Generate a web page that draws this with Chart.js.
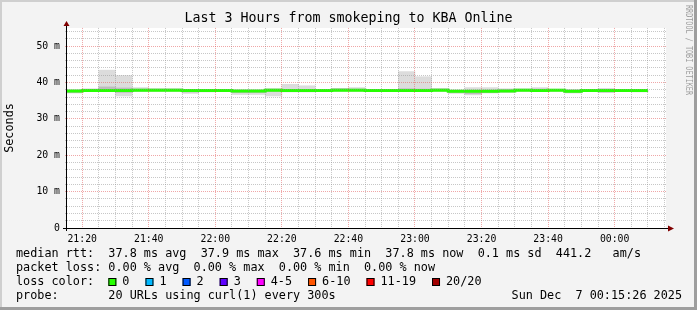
<!DOCTYPE html>
<html>
<head>
<meta charset="utf-8">
<title>Last 3 Hours from smokeping to KBA Online</title>
<script src="https://cdn.jsdelivr.net/npm/chart.js@4/dist/chart.umd.min.js"></script>
<style>
  html, body { margin: 0; padding: 0; background: #f3f3f3; }
  canvas { display: block; }
</style>
</head>
<body>
<canvas id="smokeChart" width="697" height="310"></canvas>
<script>
// ---- Data -----------------------------------------------------------------
// Each value belongs to the 5 minute bin that ENDS at the matching time.
const chartTitle   = 'Last 3 Hours from smokeping to KBA Online';
const rangeStart   = '21:15:26';
const rangeMinutes = 180;
const binMinutes   = 5;

const binEnds = [
  '21:15', '21:20', '21:25', '21:30', '21:35', '21:40', '21:45', '21:50', '21:55',
  '22:00', '22:05', '22:10', '22:15', '22:20', '22:25', '22:30', '22:35', '22:40',
  '22:45', '22:50', '22:55', '23:00', '23:05', '23:10', '23:15', '23:20', '23:25',
  '23:30', '23:35', '23:40', '23:45', '23:50', '23:55', '00:00', '00:05', '00:10'
];

// median rtt, ms
const medianRtt = [
  37.8, 37.7, 37.8, 37.8, 37.8, 37.9, 37.9, 37.9, 37.8,
  37.8, 37.8, 37.7, 37.7, 37.9, 37.8, 37.8, 37.8, 37.9,
  37.9, 37.8, 37.8, 37.8, 37.8, 37.9, 37.6, 37.6, 37.6,
  37.7, 37.9, 37.8, 37.9, 37.6, 37.8, 37.8, 37.8, 37.8
];

// smoke: fastest / slowest of the 20 probes, ms
const smokeLow = [
  37.4, 37.1, 37.5, 37.5, 36.3, 37.5, 37.6, 37.6, 37.0,
  37.4, 37.5, 36.7, 36.7, 36.3, 37.4, 37.4, 37.6, 37.6,
  37.6, 37.6, 37.6, 37.5, 37.5, 37.6, 37.0, 36.6, 37.1,
  37.3, 37.6, 37.5, 37.6, 37.1, 37.5, 37.2, 37.5, 37.4
];
const smokeHigh = [
  38.1, 38.0, 38.3, 43.4, 41.9, 38.6, 38.3, 38.3, 38.1,
  38.0, 38.1, 38.0, 38.0, 38.3, 39.5, 39.1, 38.0, 38.4,
  38.6, 38.1, 38.1, 43.0, 41.6, 38.4, 38.0, 38.6, 38.6,
  38.3, 38.2, 38.6, 38.2, 38.1, 38.0, 38.4, 38.1, 38.0
];

// smoke core: the probes closest to the median, ms
const coreLow = [
  37.6, 37.2, 37.6, 37.6, 37.3, 37.7, 37.7, 37.7, 37.4,
  37.6, 37.6, 37.2, 37.2, 37.5, 37.6, 37.6, 37.7, 37.7,
  37.7, 37.7, 37.7, 37.6, 37.6, 37.7, 37.2, 36.9, 37.2,
  37.4, 37.7, 37.6, 37.7, 37.2, 37.6, 37.4, 37.6, 37.5
];
const coreHigh = [
  37.9, 37.8, 38.1, 38.8, 38.5, 38.2, 38.2, 38.2, 37.9,
  37.9, 38.0, 37.8, 37.8, 38.2, 38.0, 38.0, 37.9, 38.3,
  38.2, 37.9, 37.9, 38.3, 38.2, 38.2, 37.8, 37.8, 37.9,
  38.0, 38.2, 38.2, 38.1, 37.9, 37.9, 37.9, 38.0, 37.9
];

const xTickLabels = ['21:20', '21:40', '22:00', '22:20', '22:40', '23:00', '23:20', '23:40', '00:00'];
const xMinorStep  = 5;
const yMajorTicks = [0, 10, 20, 30, 40, 50];
const yTickLabels = ['0', '10 m', '20 m', '30 m', '40 m', '50 m'];
const yMinorStep  = 2;
const yMax        = 55;

const statsRtt  = 'median rtt:  37.8 ms avg  37.9 ms max  37.6 ms min  37.8 ms now  0.1 ms sd  441.2   am/s';
const statsLoss = 'packet loss: 0.00 % avg  0.00 % max  0.00 % min  0.00 % now';
const lossLabels = ['0', '1', '2', '3', '4-5', '6-10', '11-19', '20/20'];
const lossColors = ['#26ff00', '#00b8ff', '#0059ff', '#5e00ff', '#ff00ff', '#ff5500', '#ff0000', '#a10000'];
const probeText  = 'probe:       20 URLs using curl(1) every 300s';
const stampText  = 'Sun Dec  7 00:15:26 2025';
const watermark  = 'RRDTOOL / TOBI OETIKER';

// ---- Helpers ---------------------------------------------------------------
const MONO = '"DejaVu Sans Mono", "Liberation Mono", monospace';

// minutes since midnight of the first day; times before noon are next day
function toMinutes(hhmm) {
  const p = hhmm.split(':').map(Number);
  const h = p[0] < 12 ? p[0] + 24 : p[0];
  return h * 60 + p[1] + (p[2] || 0) / 60;
}

const xMin = toMinutes(rangeStart);
const xMax = xMin + rangeMinutes;
const xMajorValues = xTickLabels.map(toMinutes);

function xLabelFor(v) {
  const i = xMajorValues.findIndex(function (m) { return Math.abs(m - v) < 1e-6; });
  return i === -1 ? '' : xTickLabels[i];
}
function yLabelFor(v) {
  const i = yMajorTicks.indexOf(v);
  return i === -1 ? '' : yTickLabels[i];
}

function smokeData(lo, hi) {
  return binEnds.map(function (t, i) {
    return { x: toMinutes(t) - binMinutes / 2, y: [lo[i], hi[i]] };
  });
}

const GRID_MINOR = 'rgba(144,144,144,0.5)';
const GRID_MAJOR = 'rgba(224,80,80,0.5)';

// ---- Frame, axes, arrows and the rrdtool style legend -----------------------
const rrdFrame = {
  id: 'rrdFrame',
  beforeDraw: function (chart) {
    const ctx = chart.ctx, a = chart.chartArea;
    ctx.save();
    ctx.fillStyle = '#f3f3f3';
    ctx.fillRect(0, 0, chart.width, chart.height);
    ctx.fillStyle = '#cfcfcf';
    ctx.fillRect(0, 0, chart.width, 2);
    ctx.fillRect(0, 0, 2, chart.height);
    ctx.fillStyle = '#9e9e9e';
    ctx.fillRect(chart.width - 3, 0, 3, chart.height);
    ctx.fillRect(0, chart.height - 3, chart.width, 3);
    ctx.fillStyle = '#ffffff';
    ctx.fillRect(a.left, a.top, a.right - a.left, a.bottom - a.top);
    ctx.restore();
  },
  afterDraw: function (chart) {
    const ctx = chart.ctx, a = chart.chartArea;
    ctx.save();

    // axes
    ctx.strokeStyle = '#000000';
    ctx.lineWidth = 1;
    ctx.beginPath();
    ctx.moveTo(a.left - 0.5, a.bottom + 3);
    ctx.lineTo(a.left - 0.5, a.top - 6);
    ctx.moveTo(a.left - 4, a.bottom + 0.5);
    ctx.lineTo(a.right + 3, a.bottom + 0.5);
    ctx.stroke();

    ctx.fillStyle = '#800000';
    ctx.beginPath();
    ctx.moveTo(a.left - 0.5, a.top - 7);
    ctx.lineTo(a.left - 3.5, a.top - 2);
    ctx.lineTo(a.left + 2.5, a.top - 2);
    ctx.closePath();
    ctx.fill();
    ctx.beginPath();
    ctx.moveTo(a.right + 8, a.bottom + 0.5);
    ctx.lineTo(a.right + 2, a.bottom - 2.5);
    ctx.lineTo(a.right + 2, a.bottom + 3.5);
    ctx.closePath();
    ctx.fill();

    // legend rows
    const cw = 7.104;
    ctx.font = '11.8px ' + MONO;
    ctx.fillStyle = '#000000';
    ctx.textBaseline = 'middle';
    ctx.textAlign = 'left';
    ctx.fillText(statsRtt, 16, 254);
    ctx.fillText(statsLoss, 16, 268);
    ctx.fillText('loss color:', 16, 282);
    ctx.fillText(probeText, 16, 296);
    ctx.textAlign = 'right';
    ctx.fillText(stampText, 682, 296);
    ctx.textAlign = 'left';

    let bx = 16 + 13 * cw;
    lossLabels.forEach(function (label, i) {
      ctx.fillStyle = lossColors[i];
      ctx.fillRect(bx, 278, 8, 8);
      ctx.strokeStyle = '#000000';
      ctx.strokeRect(bx + 0.5, 278.5, 7, 7);
      ctx.fillStyle = '#000000';
      ctx.fillText(label, bx + 14, 282);
      bx += 30 + cw * label.length;
    });

    // vertical watermark on the right
    ctx.translate(688, 5);
    ctx.rotate(Math.PI / 2);
    ctx.font = '8.5px ' + MONO;
    ctx.fillStyle = '#9c9c9c';
    ctx.textBaseline = 'middle';
    ctx.fillText(watermark, 0, 0, 90);
    ctx.restore();
  }
};

// ---- Chart -----------------------------------------------------------------
const canvas = document.getElementById('smokeChart');

new Chart(canvas, {
  type: 'bar',
  data: {
    datasets: [
      {
        type: 'line',
        label: 'median rtt',
        data: binEnds.map(function (t, i) { return { x: toMinutes(t), y: medianRtt[i] }; }),
        stepped: 'after',
        borderColor: lossColors[0],
        borderWidth: 3,
        pointRadius: 0,
        fill: false,
        clip: 0,
        order: 0
      },
      {
        label: 'smoke core',
        data: smokeData(coreLow, coreHigh),
        backgroundColor: '#bcbcbc',
        borderWidth: 0,
        grouped: false,
        barPercentage: 1,
        categoryPercentage: 1,
        order: 1
      },
      {
        label: 'smoke',
        data: smokeData(smokeLow, smokeHigh),
        backgroundColor: '#dcdcdc',
        borderWidth: 0,
        grouped: false,
        barPercentage: 1,
        categoryPercentage: 1,
        order: 2
      }
    ]
  },
  options: {
    responsive: false,
    animation: false,
    devicePixelRatio: 1,
    layout: { padding: 0 },
    scales: {
      x: {
        type: 'linear',
        min: xMin,
        max: xMax,
        offset: false,
        afterBuildTicks: function (scale) {
          const ticks = [];
          for (let v = Math.ceil(xMin / xMinorStep) * xMinorStep; v <= xMax; v += xMinorStep) ticks.push({ value: v });
          scale.ticks = ticks;
        },
        afterFit: function (scale) { scale.height = 82; },
        grid: {
          offset: false,
          z: 1,
          color: function (c) { return xLabelFor(c.tick.value) ? GRID_MAJOR : GRID_MINOR; },
          drawTicks: false
        },
        border: { display: false, dash: [1, 1] },
        ticks: {
          autoSkip: false,
          maxRotation: 0,
          padding: 6,
          color: '#000000',
          font: { family: MONO, size: 9.8 },
          callback: function (v) { return xLabelFor(v); }
        }
      },
      y: {
        type: 'linear',
        position: 'left',
        min: 0,
        max: yMax,
        afterBuildTicks: function (scale) {
          const ticks = [];
          for (let v = 0; v <= yMax; v += yMinorStep) ticks.push({ value: v });
          scale.ticks = ticks;
        },
        afterFit: function (scale) { scale.width = 67; },
        grid: {
          z: 1,
          color: function (c) { return yLabelFor(c.tick.value) ? GRID_MAJOR : GRID_MINOR; },
          tickLength: 2,
          tickColor: function (c) { return yLabelFor(c.tick.value) ? GRID_MAJOR : GRID_MINOR; }
        },
        border: { display: false, dash: [1, 1] },
        ticks: {
          autoSkip: false,
          padding: 5,
          color: '#000000',
          font: { family: MONO, size: 9.8 },
          callback: function (v) { return yLabelFor(v); }
        },
        title: {
          display: true,
          text: 'Seconds',
          color: '#000000',
          font: { family: MONO, size: 11.8 },
          padding: { top: 3, bottom: 0 }
        }
      },
      // empty right-hand gutter so the title centres on the whole image
      gutter: {
        type: 'linear',
        position: 'right',
        display: true,
        grid: { display: false },
        border: { display: false },
        ticks: { display: false },
        afterFit: function (scale) { scale.width = 31; }
      }
    },
    plugins: {
      legend: { display: false },
      tooltip: { enabled: false },
      title: {
        display: true,
        text: chartTitle,
        color: '#000000',
        font: { family: MONO, size: 13.3, weight: 'normal', lineHeight: 1.2 },
        padding: { top: 11, bottom: 1 }
      }
    }
  },
  plugins: [rrdFrame]
});
</script>
</body>
</html>
